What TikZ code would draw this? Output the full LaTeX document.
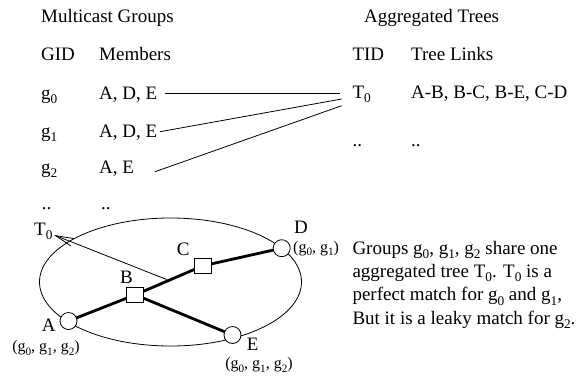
\documentclass[tikz,border=0pt]{standalone}
\usepackage{fontspec}
\setmainfont{Liberation Serif}
\usetikzlibrary{arrows.meta}
\newcommand\sbs[1]{\raisebox{-4.3pt}{\fontsize{13.3}{13.3}\selectfont #1}}
\newcommand\sbm[1]{\raisebox{-3.6pt}{\fontsize{11.2}{11.2}\selectfont #1}}
\begin{document}
\begin{tikzpicture}[x=1pt,y=-1pt,
  txt/.style={inner sep=0pt, anchor=base west, font=\fontsize{19}{23.3}\selectfont},
  small/.style={inner sep=0pt, anchor=base, font=\fontsize{16}{19}\selectfont},
  thin/.style={line width=0.8pt},
  link/.style={line width=2.8pt},
  member/.style={draw, circle, fill=white, minimum size=17pt, inner sep=0pt, line width=0.8pt},
  router/.style={draw, rectangle, fill=white, minimum width=17pt, minimum height=15pt, inner sep=0pt, line width=0.8pt}]
\useasboundingbox (0,0) rectangle (587,376);
% headers
\node[txt] (hmg) at (41,22) {Multicast Groups};
\node[txt] (hat) at (364,22) {Aggregated Trees};
\node[txt] (hgid) at (41,60) {GID};
\node[txt] (hmem) at (99,60) {Members};
\node[txt] (htid) at (352.3,60) {TID};
\node[txt] (hlinks) at (411,60) {Tree Links};
% group rows
\node[txt] (g0) at (41,99) {g\sbs{0}};
\node[txt] (m0) at (99,99) {A, D, E};
\node[txt] (g1) at (41,137) {g\sbs{1}};
\node[txt] (m1) at (99,137) {A, D, E};
\node[txt] (g2) at (41,173.3) {g\sbs{2}};
\node[txt] (m2) at (99,173.3) {A, E};
\node[txt] (gd) at (41.7,209) {..};
\node[txt] (md) at (101,209) {..};
% tree rows
\node[txt] (t0) at (352.3,98.5) {T\sbs{0}};
\node[txt] (l0) at (411,98.5) {A-B, B-C, B-E, C-D};
\node[txt] (td) at (352.3,146) {..};
\node[txt] (ld) at (411,146) {..};
% connectors table
\coordinate (s0) at (165,93.7);
\coordinate (e0) at (340,93.7);
\coordinate (s1) at (160,131.7);
\coordinate (e1) at (341.7,99);
\coordinate (s2) at (155,171.7);
\coordinate (e2) at (341.7,105.7);
\draw[thin] (s0) -- (e0);
\draw[thin] (s1) -- (e1);
\draw[thin] (s2) -- (e2);
% network
\draw[thin] (170.5,282) ellipse [x radius=131, y radius=64];
\coordinate (A0) at (68.5,321);
\coordinate (B0) at (135.3,294.8);
\coordinate (C0) at (202.8,265.8);
\coordinate (D0) at (281.7,248.2);
\coordinate (E0) at (232.5,335);
\draw[link] (A0) -- (B0) -- (C0) -- (D0);
\draw[link] (B0) -- (E0);
\node[member] (A) at (A0) {};
\node[member] (D) at (D0) {};
\node[member] (E) at (E0) {};
\node[router] (B) at (B0) {};
\node[router] (C) at (C0) {};
% labels
\node[txt] (la) at (41.7,331.7) {A};
\node[txt] (lb) at (120,283.3) {B};
\node[txt] (lc) at (176.7,255) {C};
\node[txt] (ld2) at (294,233) {D};
\node[txt] (le) at (246.7,350.7) {E};
\node[small] (ga) at (46,351.5) {(g\sbm{0}, g\sbm{1}, g\sbm{2})};
\node[small, anchor=base west] (gdl) at (293,252) {(g\sbm{0}, g\sbm{1})};
\node[small] (ge) at (259,368.5) {(g\sbm{0}, g\sbm{1}, g\sbm{2})};
% T0 arrow
\node[txt] (tb) at (34,235.5) {T\sbs{0}};
\coordinate (arrS) at (166.7,279.5);
\coordinate (arrT) at (54,235);
\draw[thin, -{Straight Barb[length=18pt,width=8pt,line width=0.8pt]}] (arrS) -- (arrT);
% description
\node[txt] (p1) at (352.3,254) {Groups g\sbs{0}, g\sbs{1}, g\sbs{2} share one};
\node[txt] (p2) at (352.3,277.3) {aggregated tree T\sbs{0}. T\sbs{0} is a};
\node[txt] (p3) at (352.3,300.7) {perfect match for g\sbs{0} and g\sbs{1},};
\node[txt] (p4) at (352.3,324) {But it is a leaky match for g\sbs{2}.};
\end{tikzpicture}
\end{document}
